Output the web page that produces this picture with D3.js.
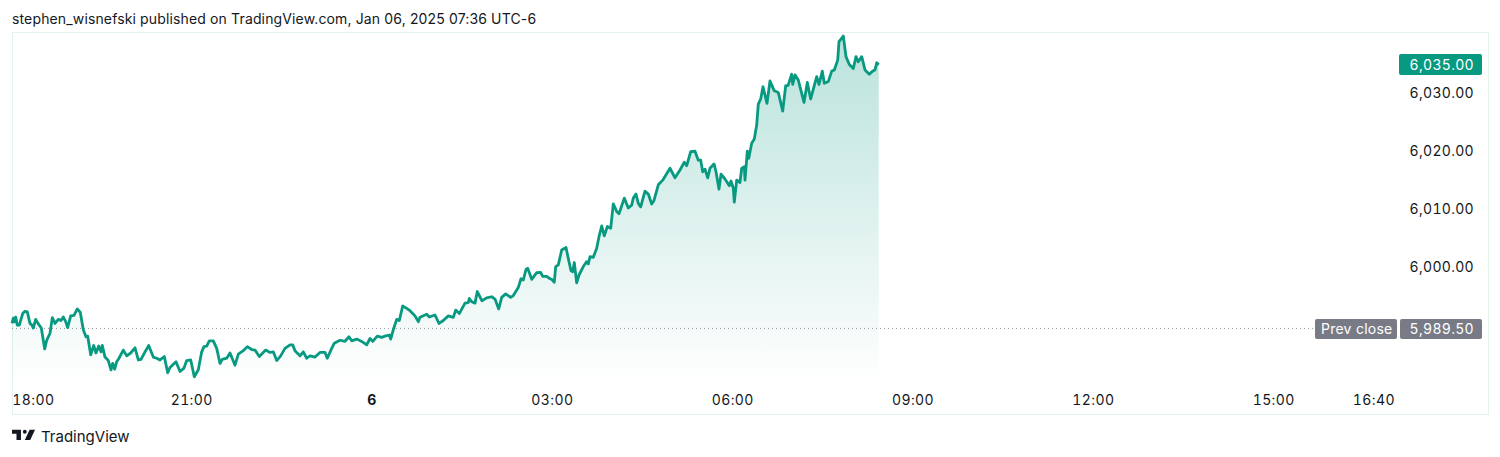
<!DOCTYPE html>
<html><head><meta charset="utf-8">
<script src="https://cdn.jsdelivr.net/npm/d3@7"></script>
<style>html,body{margin:0;padding:0;background:#fff}svg{display:block}text{font-family:Inter,"Noto Sans",sans-serif}.num{font-variant-numeric:tabular-nums}</style>
</head><body><svg id="c" width="1500" height="457"></svg>
<script>
const title = "stephen_wisnefski published on TradingView.com, Jan 06, 2025 07:36 UTC-6";
const minutes = [0,1.3,2.7,3.7,5.3,7.3,10.7,13,15.3,18,20,21.3,23.7,26,29.3,32.7,34.7,38,40.3,43,46.3,49,51.3,53.7,55.7,58.7,62,65.3,68.3,71.3,74,75.7,78.7,81.7,84,86.7,89,90.3,93,96.3,99,100.7,102.7,104.7,107,111.3,114.7,118.7,123,126.3,129,133.7,136.7,141.3,144.7,148,152.3,155.7,158,164,168,172,174.7,178.7,182.3,186.3,189.7,192,194.7,197.3,201.3,204.7,208,210.3,214.7,218,223,226.3,231.3,235.3,239.7,243,247.3,253.7,258,261.3,264.7,268.7,273,278,280.7,283,288,291.3,294.7,298,303,308,313,315.3,319.7,322.3,328,333,337,339.7,344.7,349.7,354.7,358,360.7,365.3,369.7,373,377.3,378.7,381.3,384.7,387.3,390.7,394.7,398,403,406.3,408,414.7,417.3,423,427,431.3,436.3,441.3,443.7,447.3,453,456.3,457.3,459.7,463,465.3,470,474.7,479.7,483,486.7,489.7,493.7,498.7,501.3,506.3,509,511.3,514,515.7,519.7,524.7,528.7,530.7,534.7,538,539.7,542.3,543.7,546.3,549.7,554,556.3,559,560.7,562.3,564.7,567,571.3,574.7,576.3,578,581.3,584.7,587,589.7,592.3,595.3,598.7,601.3,604.7,607,612.3,616.3,619.7,621.3,624,626.3,628.7,633,636.3,639.7,642,646.3,650.7,658,663,668,672.3,674.7,678.7,683,686.3,688.7,690.7,693,695.7,698,702,704,707,709,713,717.3,719,721.3,722.3,724.7,728,729.7,732.3,733,735.3,736.7,739.7,742.3,744.7,746.3,748.7,751,755,758,762.3,766.3,769.3,770.7,773.7,776,779.7,780.7,783,786.3,792,795.3,798.7,804.7,807,810.3,812.3,816.3,819.7,822.3,825.7,827,831.3,834,837.3,841.3,844,846.3,849.7,853,857.3,860.7,863,864.7,866.7];
const prices = [5990.1,5991.0,5990.4,5991.2,5989.8,5989.8,5991.8,5992.2,5992.1,5990.1,5989.8,5989.3,5990.8,5990.1,5989.3,5985.7,5987.2,5988.4,5991.1,5990.1,5990.8,5990.6,5991.2,5990.4,5989.4,5991.4,5991.5,5992.6,5992.0,5989.0,5987.8,5987.9,5984.7,5986.3,5985.0,5986.2,5985.2,5986.3,5984.3,5983.7,5982.1,5983.2,5982.2,5983.5,5984.1,5985.5,5984.5,5985.0,5985.9,5983.8,5983.9,5985.4,5986.3,5984.3,5984.1,5983.8,5984.4,5981.6,5982.5,5983.5,5981.8,5982.4,5983.7,5983.8,5980.9,5982.1,5985.2,5986.1,5986.2,5987.1,5987.1,5985.8,5983.2,5983.9,5984.1,5985.0,5982.9,5984.8,5985.4,5986.1,5985.6,5985.5,5984.4,5985.5,5985.1,5985.2,5983.7,5984.5,5985.8,5986.4,5986.4,5985.4,5984.5,5985.2,5984.1,5984.5,5984.3,5985.1,5985.1,5984.1,5985.8,5986.7,5987.2,5987.0,5987.8,5987.1,5987.4,5987.0,5986.4,5987.5,5987.0,5987.9,5987.7,5987.9,5988.1,5987.4,5989.0,5990.8,5990.6,5993.1,5992.7,5992.3,5991.4,5990.4,5991.15,5991.7,5991.2,5991.55,5990.1,5990.6,5991.4,5991.15,5992.4,5991.8,5993.6,5993.7,5994.4,5993.85,5993.6,5995.6,5994.0,5994.5,5994.7,5994.3,5992.6,5994.6,5995.2,5994.6,5994.9,5996.3,5997.8,5997.6,5999.4,5999.6,5997.7,5998.85,5998.9,5998.2,5998.2,5997.8,5997.7,5997.2,5999.9,6000.2,6002.75,6003.2,6001.3,5999.2,5999.0,6000.6,5997.1,5998.45,5999.9,6000.75,6000.35,6001.6,6001.5,6003.05,6005.05,6006.9,6005.2,6006.8,6006.5,6010.7,6009.4,6009.0,6011.7,6010.0,6010.5,6011.7,6012.4,6010.8,6010.2,6012.9,6012.4,6010.7,6011.3,6014.0,6014.8,6016.85,6015.2,6016.55,6017.9,6017.3,6019.7,6019.8,6018.25,6018.25,6016.25,6016.7,6015.2,6016.85,6017.6,6016.25,6013.25,6015.85,6015.0,6013.85,6014.65,6013.4,6011.0,6014.8,6014.4,6016.85,6017.1,6014.8,6019.8,6018.55,6021.15,6021.9,6024.3,6027.9,6028.8,6030.9,6028.05,6031.9,6030.2,6029.9,6027.75,6026.7,6031.1,6031.1,6033.05,6031.3,6032.95,6032.05,6028.2,6031.65,6028.8,6032.65,6031.3,6033.6,6031.5,6031.8,6033.6,6033.8,6035.5,6038.7,6039.65,6036.1,6034.75,6034.05,6036.1,6035.2,6036.1,6033.8,6033.05,6033.6,6033.8,6035.05,6034.7];
const yTicks = [6000,6010,6020,6030];
const xTickMinutes = [0,180,360,540,720,900,1080,1260,1360];
const xTickLabels = ["18:00","21:00","6","03:00","06:00","09:00","12:00","15:00","16:40"];
const lastPrice = 6035, prevClose = 5989.5;
const green = "#089981", grey = "#787b86", ink = "#131722", border = "#e3f3f0";

const svg = d3.select("#c");
const x = d3.scaleLinear().domain([0,1440]).range([12,1452]);
const xAxisScale = d3.scaleLinear().domain([180,1260]).range([191.2,1273.2]);
const y = d3.scaleLinear().domain([6000,6030]).range([266,92]);
const fmt = d3.format(",.2f");

svg.append("text").attr("x",12).attr("y",24).attr("font-size",14).attr("letter-spacing",.14).attr("fill",ink).text(title);
svg.append("rect").attr("x",12.5).attr("y",32.5).attr("width",1476).attr("height",382).attr("fill","#fff").attr("stroke",border);

const defs = svg.append("defs");
const g = defs.append("linearGradient").attr("id","fill").attr("gradientUnits","userSpaceOnUse")
  .attr("x1",0).attr("x2",0).attr("y1",y(d3.max(prices))).attr("y2",385);
g.append("stop").attr("offset",0).attr("stop-color",green).attr("stop-opacity",.28);
g.append("stop").attr("offset",1).attr("stop-color",green).attr("stop-opacity",0);

const pts = minutes.map((m,i)=>[m,prices[i]]);
svg.append("path").datum(pts).attr("fill","url(#fill)")
  .attr("d",d3.area().x(d=>x(d[0])).y0(385).y1(d=>y(d[1])));

svg.append("line").attr("x1",12).attr("x2",1315).attr("y1",y(prevClose)+1.5).attr("y2",y(prevClose)+1.5)
  .attr("stroke","#8f929b").attr("stroke-width",1).attr("stroke-dasharray","1 3");

svg.append("path").datum(pts).attr("fill","none").attr("stroke",green).attr("stroke-width",2.8)
  .attr("stroke-linejoin","round").attr("d",d3.line().x(d=>x(d[0])).y(d=>y(d[1])));

const ya = svg.append("g").attr("transform","translate(1474,1)")
  .call(d3.axisLeft(y).tickValues(yTicks).tickFormat(fmt).tickSize(0).tickPadding(0));
ya.select(".domain").remove();
ya.selectAll("text").attr("class","num").attr("font-size",14).attr("fill",ink).attr("font-family",'Inter,"Noto Sans",sans-serif').attr("letter-spacing",.3);

const xa = svg.append("g").attr("transform","translate(0,399)")
  .call(d3.axisBottom(xAxisScale).tickValues(xTickMinutes).tickFormat((d,i)=>xTickLabels[i]).tickSize(0).tickPadding(0));
xa.select(".domain").remove();
xa.selectAll("text").attr("class","num").attr("font-size",14).attr("fill",ink).attr("font-family",'Inter,"Noto Sans",sans-serif').attr("dy",0)
  .attr("letter-spacing",.4)
  .attr("font-weight",(d,i)=>xTickLabels[i]==="6"?700:400)
  .attr("text-anchor",(d,i)=>i===0?"start":"middle")
  .attr("x",(d,i)=>i===0?1:0);
xa.selectAll("text").attr("y",6);

function pill(px,py,w,h,fill,label,tx,anchor,ls,cls){
  svg.append("rect").attr("x",px).attr("y",py).attr("width",w).attr("height",h).attr("rx",2).attr("fill",fill);
  svg.append("text").attr("class",cls).attr("x",tx).attr("y",py+h/2+5).attr("text-anchor",anchor).attr("font-size",14).attr("fill","#fff").attr("letter-spacing",ls).text(label);
}
pill(1399,54,83,21,green,fmt(lastPrice),1474,"end",.3,"num");
pill(1315,319,82,20,grey,"Prev close",1321,"start",.25,"");
pill(1400,319,82,20,grey,fmt(prevClose),1474,"end",.3,"num");

const logo = svg.append("g").attr("transform","translate(12,426) scale(.64)").attr("fill",ink);
logo.append("path").attr("d","M14 6H0v6h7v10h7V6z");
logo.append("circle").attr("cx",20).attr("cy",9).attr("r",3);
logo.append("path").attr("d","M28.5 22H20l7.5-16H36z");
svg.append("text").attr("x",41).attr("y",442).attr("font-size",15).attr("fill",ink).text("TradingView");
</script></body></html>
